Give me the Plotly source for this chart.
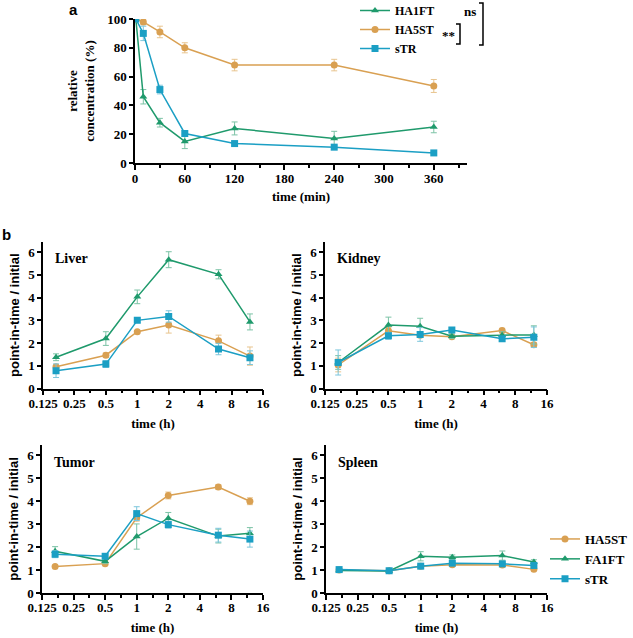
import plotly.graph_objects as go

# ---------------- data: panel a ----------------
time_min = [1, 10, 30, 60, 120, 240, 360]
a_HA1FT = [100, 46, 28, 15, 24, 17, 25]
a_HA1FT_err = [0, 5, 3, 5, 4.5, 5, 4]
a_HA5ST = [100, 98, 91, 80, 68, 68, 53.5]
a_HA5ST_err = [0, 2, 4, 3.5, 4, 4, 4.5]
a_sTR = [100, 90, 51, 20.5, 13.5, 11, 7]
a_sTR_err = [0, 5, 3, 2, 1, 1, 1]

# ---------------- data: panel b ----------------
time_h = [1/6, 0.5, 1, 2, 6, 12]
organs = ["Liver", "Kidney", "Tumor", "Spleen"]
b_HA5ST = {
    "Liver": [0.96, 1.47, 2.5, 2.79, 2.1, 1.43],
    "Kidney": [1.04, 2.54, 2.35, 2.28, 2.55, 1.93],
    "Tumor": [1.16, 1.28, 3.28, 4.25, 4.62, 4.0],
    "Spleen": [1.0, 0.97, 1.17, 1.23, 1.22, 1.03],
}
b_HA5ST_err = {
    "Liver": [0.1, 0.1, 0.05, 0.35, 0.25, 0.4],
    "Kidney": [0.3, 0.15, 0.1, 0.05, 0.1, 0.1],
    "Tumor": [0.05, 0.05, 0.15, 0.15, 0.1, 0.15],
    "Spleen": [0.05, 0.05, 0.05, 0.05, 0.05, 0.05],
}
b_FA1FT = {
    "Liver": [1.38, 2.2, 4.03, 5.66, 5.02, 2.93],
    "Kidney": [1.15, 2.79, 2.74, 2.3, 2.35, 2.36],
    "Tumor": [1.82, 1.38, 2.46, 3.26, 2.48, 2.6],
    "Spleen": [0.98, 0.96, 1.6, 1.56, 1.63, 1.35],
}
b_FA1FT_err = {
    "Liver": [0.15, 0.3, 0.3, 0.35, 0.2, 0.35],
    "Kidney": [0.3, 0.35, 0.35, 0.1, 0.15, 0.4],
    "Tumor": [0.2, 0.1, 0.55, 0.25, 0.3, 0.25],
    "Spleen": [0.05, 0.05, 0.2, 0.1, 0.2, 0.1],
}
b_sTR = {
    "Liver": [0.79, 1.08, 3.0, 3.17, 1.74, 1.36],
    "Kidney": [1.15, 2.32, 2.38, 2.58, 2.19, 2.26],
    "Tumor": [1.69, 1.6, 3.46, 2.98, 2.52, 2.35],
    "Spleen": [1.02, 0.97, 1.17, 1.3, 1.27, 1.2],
}
b_sTR_err = {
    "Liver": [0.3, 0.15, 0.1, 0.25, 0.25, 0.3],
    "Kidney": [0.55, 0.15, 0.3, 0.1, 0.1, 0.45],
    "Tumor": [0.15, 0.1, 0.3, 0.15, 0.3, 0.35],
    "Spleen": [0.05, 0.05, 0.05, 0.05, 0.05, 0.05],
}
log_ticks = [0.125, 0.25, 0.5, 1, 2, 4, 8, 16]
log_ticktext = ["0.125", "0.25", "0.5", "1", "2", "4", "8", "16"]

GREEN = "#1f9a6c"
ORANGE = "#d9a052"
BLUE = "#1b9fc4"
GREEN_E = "#7cc3a6"
ORANGE_E = "#e8c48e"
BLUE_E = "#7cc6dc"

W, H = 633, 638
SERIF = "Liberation Serif"
SANS = "Liberation Sans"


def px(x):
    return x / W


def py(y):
    return 1 - y / H


def bfont(size, family=SERIF):
    return dict(family=family, size=size, color="black", weight="bold")


fig = go.Figure()

# ---- panel a traces ----
for name, ys, err, col, ecol, sym in [
    ("HA1FT", a_HA1FT, a_HA1FT_err, GREEN, GREEN_E, "triangle-up"),
    ("HA5ST", a_HA5ST, a_HA5ST_err, ORANGE, ORANGE_E, "circle"),
    ("sTR", a_sTR, a_sTR_err, BLUE, BLUE_E, "square"),
]:
    fig.add_trace(go.Scatter(
        x=time_min, y=ys, name=name, mode="lines+markers",
        line=dict(color=col, width=1.5),
        marker=dict(symbol=sym, size=7, color=col),
        error_y=dict(type="data", array=err, color=ecol, thickness=1, width=3),
        xaxis="x", yaxis="y", legend="legend",
    ))

# ---- panel b traces ----
axes_map = {"Liver": ("x2", "y2"), "Kidney": ("x3", "y3"),
            "Tumor": ("x4", "y4"), "Spleen": ("x5", "y5")}
for organ in organs:
    xa, ya = axes_map[organ]
    for name, d, de, col, ecol, sym, rank in [
        ("HA5ST", b_HA5ST, b_HA5ST_err, ORANGE, ORANGE_E, "circle", 1),
        ("FA1FT", b_FA1FT, b_FA1FT_err, GREEN, GREEN_E, "triangle-up", 2),
        ("sTR", b_sTR, b_sTR_err, BLUE, BLUE_E, "square", 3),
    ]:
        fig.add_trace(go.Scatter(
            x=time_h, y=d[organ], name=name, mode="lines+markers",
            line=dict(color=col, width=1.5),
            marker=dict(symbol=sym, size=7, color=col),
            error_y=dict(type="data", array=de[organ], color=ecol, thickness=1, width=3),
            xaxis=xa, yaxis=ya, legend="legend2", legendrank=rank,
            showlegend=(organ == "Liver"),
        ))

axline = dict(showline=True, linecolor="black", linewidth=1.5, ticks="outside",
              tickcolor="black", tickwidth=1.5, showgrid=False, zeroline=False,
              tickfont=bfont(13), automargin=False)

layout = dict(
    width=W, height=H, margin=dict(l=0, r=0, t=0, b=0, autoexpand=False),
    paper_bgcolor="white", plot_bgcolor="white",
    xaxis=dict(domain=[px(135), px(467)], range=[0, 400], tickvals=[0, 60, 120, 180, 240, 300, 360],
               ticklen=5, ticklabelstandoff=-2,
               minor=dict(tickvals=[30, 90, 150, 210, 270, 330, 390], ticklen=3,
                          tickcolor="black", tickwidth=1.5, ticks="outside"),
               anchor="y", title=dict(text="time (min)", font=bfont(13), standoff=7),
               **axline),
    yaxis=dict(domain=[py(163), py(19)], range=[0, 100], tickvals=[0, 20, 40, 60, 80, 100], ticklen=4,
               anchor="x", title=dict(text="relative<br>concentration (%)", font=bfont(13),
                                      standoff=10),
               **axline),
    showlegend=True,
    legend=dict(x=px(355), y=py(-4), xanchor="left", yanchor="top",
                font=bfont(12), itemwidth=30,
                bgcolor="rgba(0,0,0,0)", tracegroupgap=0),
    legend2=dict(x=px(545), y=py(524), xanchor="left", yanchor="top",
                 font=bfont(13), itemwidth=30,
                 bgcolor="rgba(0,0,0,0)", tracegroupgap=0),
)

sub_geo = {
    "Liver": (43, 263, 388.7, 241.7, "2"),
    "Kidney": (325, 547, 388.7, 241.7, "3"),
    "Tumor": (42, 263, 593, 445, "4"),
    "Spleen": (326, 547, 593, 445, "5"),
}
minor_vals = [0.125 * 2 ** (k + 0.5) for k in range(7)]
for organ, (x0, x1, y0, y1, n) in sub_geo.items():
    layout["xaxis" + n] = dict(
        domain=[px(x0), px(x1)], type="log", range=[-0.90309, 1.20412],
        tickvals=log_ticks, ticktext=log_ticktext, ticklen=5, ticklabelstandoff=-3,
        minor=dict(tickvals=minor_vals, ticklen=3, tickcolor="black", tickwidth=1.5, ticks="outside"),
        anchor="y" + n,
        title=dict(text="time (h)", font=bfont(13), standoff=9),
        **axline)
    layout["yaxis" + n] = dict(
        domain=[py(y0), py(y1)], range=[0, 6.45], tickvals=[0, 1, 2, 3, 4, 5, 6], ticklen=4,
        anchor="x" + n,
        title=dict(text="point-in-time / initial", font=bfont(13, SANS), standoff=6),
        **axline)

fig.update_layout(**layout)

# organ labels
for organ, (x0, x1, y0, y1, n) in sub_geo.items():
    fig.add_annotation(text="<b>%s</b>" % organ, xref="paper", yref="paper",
                       x=px(x0 + 10), y=py(y1 + 17), xanchor="left", yanchor="middle",
                       showarrow=False, font=dict(family=SERIF, size=14, color="black"))

# panel labels
fig.add_annotation(text="<b>a</b>", xref="paper", yref="paper", x=px(67), y=py(9),
                   xanchor="left", yanchor="middle", showarrow=False,
                   font=dict(family=SANS, size=15, color="black"))
fig.add_annotation(text="<b>b</b>", xref="paper", yref="paper", x=px(0), y=py(234),
                   xanchor="left", yanchor="middle", showarrow=False,
                   font=dict(family=SANS, size=15, color="black"))

# significance brackets
fig.add_annotation(text="<b>ns</b>", xref="paper", yref="paper", x=px(478), y=py(11),
                   xanchor="right", yanchor="middle", showarrow=False,
                   font=dict(family=SERIF, size=13, color="black"))
fig.add_annotation(text="<b>**</b>", xref="paper", yref="paper", x=px(457), y=py(35),
                   xanchor="right", yanchor="middle", showarrow=False,
                   font=dict(family=SERIF, size=13, color="black"))
for xs, ytop, ybot in [(483, 3, 45), (460, 24, 44)]:
    fig.add_shape(type="path", xref="paper", yref="paper",
                  path="M %f %f L %f %f L %f %f L %f %f" % (
                      px(xs - 4), py(ytop), px(xs), py(ytop), px(xs), py(ybot), px(xs - 4), py(ybot)),
                  line=dict(color="black", width=1.5))

fig.write_html("out.html", config={"displayModeBar": False},
               post_script="document.body.style.margin='0';document.body.style.overflow='hidden';")
